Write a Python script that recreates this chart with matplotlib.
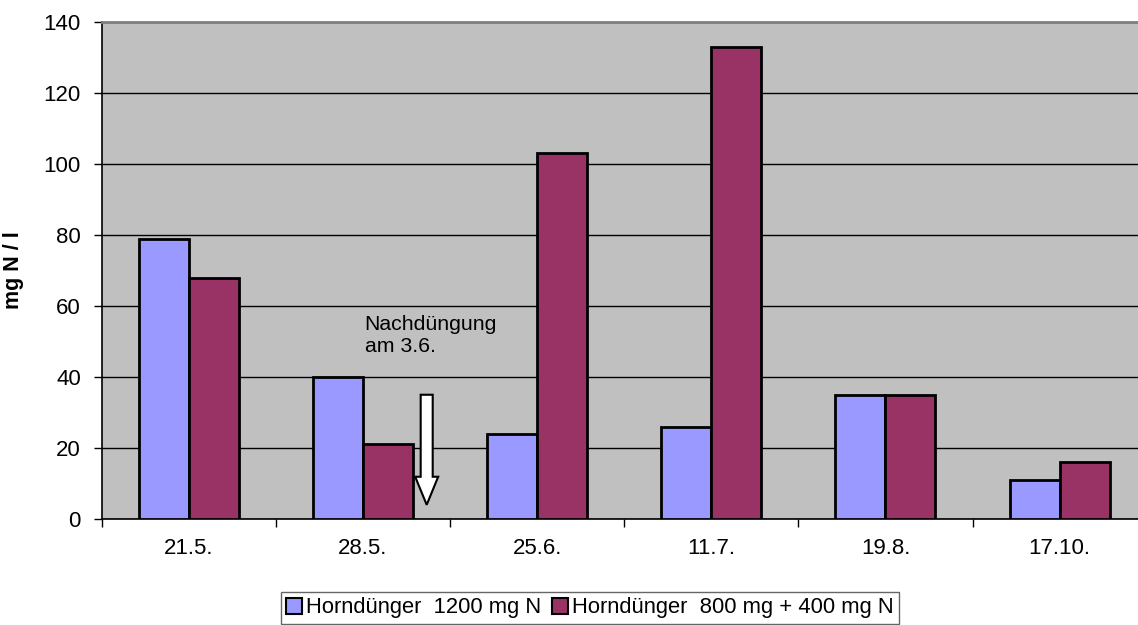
import matplotlib.pyplot as plt
import numpy as np
from matplotlib.patches import FancyArrow

plt.rcParams['font.family'] = ['Liberation Sans', 'DejaVu Sans']

# Messtermine und N-Gehalte (mg N / l)
termine = ['21.5.', '28.5.', '25.6.', '11.7.', '19.8.', '17.10.']
horn_1200 = [79, 40, 24, 26, 35, 11]
horn_800_400 = [68, 21, 103, 133, 35, 16]
namen = ['Horndünger  1200 mg N', 'Horndünger  800 mg + 400 mg N']

fig = plt.figure(figsize=(11.38, 6.25), dpi=100)
ax = fig.add_axes([101.7 / 1138, 106 / 625, 1045 / 1138, 497 / 625])
ax.set_facecolor('#C0C0C0')

x = np.arange(len(termine))
w = 0.287
ax.bar(x - w / 2, horn_1200, w, color='#9999FF', edgecolor='black', linewidth=2, zorder=3, label=namen[0])
ax.bar(x + w / 2, horn_800_400, w, color='#993366', edgecolor='black', linewidth=2, zorder=3, label=namen[1])

ax.set_xlim(-0.5, len(termine) - 0.5)
ax.set_ylim(0, 140)
ax.set_yticks(range(0, 141, 20))
ax.yaxis.grid(True, color='black', linewidth=1)
ax.set_axisbelow(True)

# Kategorien-Beschriftung mittig, Teilstriche zwischen den Gruppen
ax.set_xticks(x)
ax.set_xticklabels(termine)
ax.set_xticks(np.arange(-0.5, len(termine), 1), minor=True)
ax.tick_params(axis='x', which='major', length=0, pad=14, labelsize=16)
ax.tick_params(axis='x', which='minor', length=6, width=1, direction='out')
ax.tick_params(axis='y', length=6, width=1, direction='out', labelsize=16, pad=9)

ax.spines['top'].set_color('#808080')
ax.spines['top'].set_linewidth(2)
ax.spines['right'].set_visible(False)
ax.spines['left'].set_linewidth(1.2)
ax.spines['bottom'].set_linewidth(1.2)

ax.set_ylabel('mg N / l', fontsize=15.5, fontweight='bold', labelpad=14)

# Hinweis auf die Nachdüngung
ax.text(1.01, 57.5, 'Nachdüngung\nam 3.6.', fontsize=15.3, va='top', ha='left', linespacing=1.2, zorder=4)
ax.add_patch(FancyArrow(1.366, 35, 0, -31, width=0.069, head_width=0.132, head_length=7.9,
                        length_includes_head=True, facecolor='white', edgecolor='black',
                        linewidth=1.5, zorder=4))

leg = fig.legend(loc='center', bbox_to_anchor=(590 / 1138, 1 - 608 / 625), ncol=2, fontsize=15.8,
                 frameon=True, fancybox=False, edgecolor='#404040', handlelength=0.7,
                 handleheight=0.7, handletextpad=0.2, columnspacing=0.5, borderpad=0.25,
                 borderaxespad=0)
leg.get_frame().set_linewidth(1)
for h in leg.legend_handles:
    h.set_linewidth(1.5)

fig.savefig('out.png', dpi=100)
